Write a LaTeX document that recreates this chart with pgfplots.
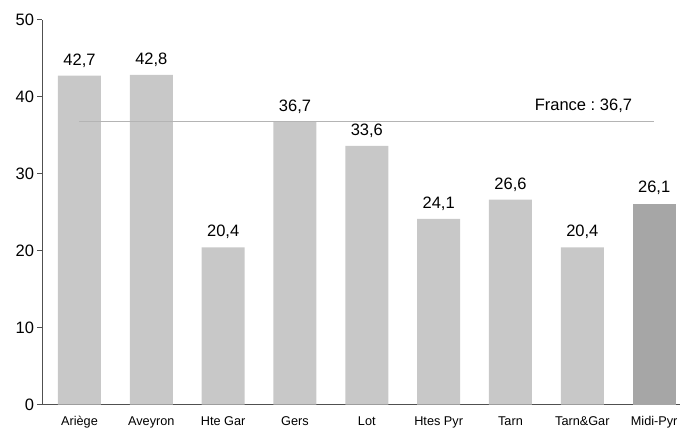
\documentclass[border=0pt]{standalone}
\usepackage{pgfplots}
\pgfplotsset{compat=1.18}
\usepackage{fontspec}
\setmainfont{Liberation Sans}
\definecolor{barlight}{HTML}{C8C8C8}
\definecolor{bardark}{HTML}{A6A6A6}
\definecolor{axisgray}{HTML}{505050}
\definecolor{refline}{HTML}{B4B4B4}
\begin{document}
\begin{tikzpicture}
\begin{axis}[
  scale only axis,
  width=637.5bp, height=385bp,
  xmin=-0.515, xmax=8.36,
  ymin=0, ymax=50,
  ytick={0,10,20,30,40,50},
  xtick={0,1,2,3,4,5,6,7,8},
  xticklabels={Ariège,Aveyron,Hte Gar,Gers,Lot,Htes Pyr,Tarn,Tarn\&Gar,Midi-Pyr},
  axis x line=bottom, axis y line=left,
  axis line style={-, draw=axisgray, line width=0.9bp},
  xtick style={draw=none},
  ytick style={draw=axisgray, line width=0.9bp},
  tick align=outside,
  major tick length=5bp,
  /pgf/number format/assume math mode=true,
  yticklabel style={font=\fontsize{16.5bp}{19bp}\selectfont},
  xticklabel style={font=\fontsize{12.7bp}{15bp}\selectfont, yshift=-3.5bp},
  ybar, bar width=43bp,
  bar shift=0pt,
  nodes near coords,
  every node near coord/.append style={font=\fontsize{16.5bp}{19bp}\selectfont, text=black, yshift=5bp,
    /pgf/number format/.cd, fixed, fixed zerofill, precision=1, use comma, assume math mode=true},
  clip=false,
]
\coordinate (o) at (rel axis cs:0,0);
% departments
\addplot[fill=barlight, draw=none] coordinates {
  (0,42.7) (1,42.8) (2,20.4) (3,36.7) (4,33.6) (5,24.1) (6,26.6) (7,20.4)
};
% region
\addplot[fill=bardark, draw=none] coordinates {(8,26.1)};
% national reference
\addplot[sharp plot, refline, line width=1bp, nodes near coords={}, forget plot] coordinates {(0,36.7) (8,36.7)};
\node[anchor=south east, font=\fontsize{16.5bp}{19bp}\selectfont, inner sep=0pt, yshift=9bp] at (axis cs:7.695,36.7) {France :\ 36,7};
\end{axis}
\pgfresetboundingbox
\path[use as bounding box] (o) ++(-42.5bp,-24.5bp) rectangle ++(680bp,429bp);
\end{tikzpicture}
\end{document}
